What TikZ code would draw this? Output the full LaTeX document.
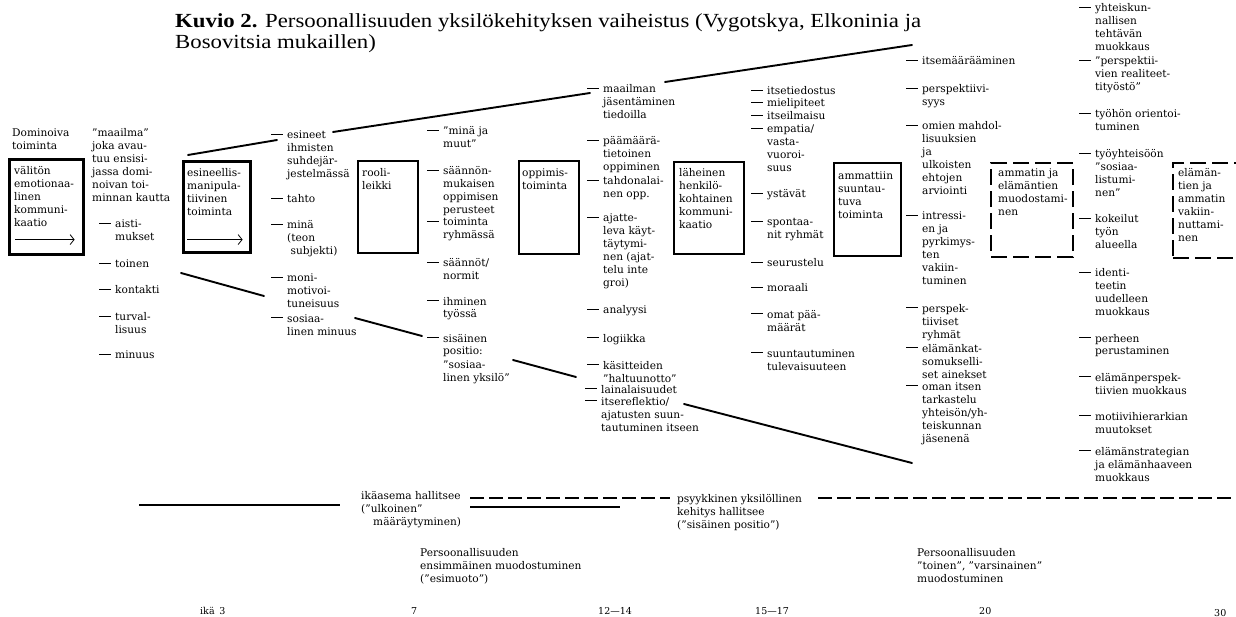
\documentclass[tikz,border=0pt]{standalone}
\usepackage{fontspec}
\setmainfont{DejaVu Serif}
\newfontfamily\titlefont[FakeStretch=1.14]{Liberation Serif}
\usetikzlibrary{arrows.meta}
\tikzset{
  txt/.style={font=\fontsize{10.6}{13}\selectfont, anchor=north west, inner sep=0pt, align=left},
  small/.style={font=\fontsize{9.5}{11}\selectfont, anchor=base west, inner sep=0pt},
  dsh/.style={line width=0.8pt},
  boxT/.style={draw, line width=2.6pt, anchor=north west, inner sep=0pt},
  boxM/.style={draw, line width=1.6pt, anchor=north west, inner sep=0pt},
  boxD/.style={draw, line width=2.2pt, dash pattern=on 16pt off 6pt, anchor=north west, inner sep=0pt},
  conn/.style={line width=1.9pt, line cap=round},
  arr/.style={line width=0.8pt, -{Straight Barb[length=4pt,width=10pt,line width=0.8pt]}},
  dline/.style={line width=1.7pt, dash pattern=on 14pt off 5pt},
}
\newcommand\mkitem[4]{\node[txt] (#1) at (#2,#3-4.3) {\strut#4};
  \draw[dsh] ([xshift=-16pt,yshift=-4.6pt]#1.north west) -- ++(12pt,0);}
\newcommand\mktext[4]{\node[txt] (#1) at (#2,#3-4.3) {\strut#4};}
\begin{document}
\begin{tikzpicture}[x=1pt,y=-1pt]
\useasboundingbox (0,0) rectangle (1236,617);
\begin{scope}
\clip (0,0) rectangle (1236,617);
% title
\node[anchor=north west, inner sep=0pt, align=left, font=\titlefont\fontsize{20}{21.5}\selectfont] (title) at (175,12)
 {\strut\textbf{Kuvio 2.} Persoonallisuuden yksilökehityksen vaiheistus (Vygotskya, Elkoninia ja\\Bosovitsia mukaillen)};

% column 1
\mktext{dom}{12}{132}{Dominoiva\\toiminta}
\node[boxT, minimum width=74pt, minimum height=95pt] (b1) at (8,158) {};
\mktext{b1t}{14}{170}{välitön\\emotionaa-\\linen\\kommuni-\\kaatio}
\draw[arr] ([xshift=7pt,yshift=16pt]b1.south west) -- ([xshift=-10pt,yshift=16pt]b1.south east);

% column 2
\mktext{maailma}{92}{132}{''maailma''\\joka avau-\\tuu ensisi-\\jassa domi-\\noivan toi-\\minnan kautta}
\mkitem{aisti}{115}{223}{aisti-\\mukset}
\mkitem{toinen}{115}{263}{toinen}
\mkitem{kontakti}{115}{289}{kontakti}
\mkitem{turval}{115}{316}{turval-\\lisuus}
\mkitem{minuus}{115}{354}{minuus}

% box 3
\node[boxT, minimum width=67pt, minimum height=91pt] (b3) at (182,160) {};
\mktext{b3t}{187}{172}{esineellis-\\manipula-\\tiivinen\\toiminta}
\draw[arr] ([xshift=5pt,yshift=14pt]b3.south west) -- ([xshift=-9pt,yshift=14pt]b3.south east);

% column 3
\mkitem{esineet}{287}{134}{esineet\\ihmisten\\suhdejär-\\jestelmässä}
\mkitem{tahto}{287}{198}{tahto}
\mkitem{mina}{287}{224}{minä\\(teon\\\ subjekti)}
\mkitem{moni}{287}{277}{moni-\\motivoi-\\tuneisuus}
\mkitem{sosiaa}{287}{317}{sosiaa-\\linen minuus}

% box 4
\node[boxM, minimum width=60pt, minimum height=92pt] (b4) at (357,160) {};
\mktext{b4t}{362}{172}{rooli-\\leikki}

% column 4
\mkitem{minaja}{443}{130}{''minä ja\\muut''}
\mkitem{saannon}{443}{170}{säännön-\\mukaisen\\oppimisen\\perusteet}
\mkitem{toiminta}{443}{221}{toiminta\\ryhmässä}
\mkitem{saannot}{443}{262}{säännöt/\\normit}
\mkitem{ihminen}{443}{300}{ihminen\\työssä}
\mkitem{sisainen}{443}{337}{sisäinen\\positio:\\''sosiaa-\\linen yksilö''}

% box 5
\node[boxM, minimum width=60pt, minimum height=93pt] (b5) at (518,160) {};
\mktext{b5t}{522}{172}{oppimis-\\toiminta}

% column 5
\mkitem{maailman}{603}{88}{maailman\\jäsentäminen\\tiedoilla}
\mkitem{paamaara}{603}{140}{päämäärä-\\tietoinen\\oppiminen}
\mkitem{tahdon}{603}{180}{tahdonalai-\\nen opp.}
\mkitem{ajatte}{603}{217}{ajatte-\\leva käyt-\\täytymi-\\nen (ajat-\\telu inte\\groi)}
\mkitem{analyysi}{603}{309}{analyysi}
\mkitem{logiikka}{603}{337}{logiikka}
\mkitem{kasitteiden}{603}{364}{käsitteiden\\''haltuunotto''}
\mkitem{laina}{601}{388}{lainalaisuudet}
\mkitem{itserefl}{601}{400}{itsereflektio/\\ajatusten suun-\\tautuminen itseen}

% box 6
\node[boxM, minimum width=70pt, minimum height=92pt] (b6) at (673,161) {};
\mktext{b6t}{679}{172}{läheinen\\henkilö-\\kohtainen\\kommuni-\\kaatio}

% column 6
\mkitem{itsetied}{767}{90}{itsetiedostus}
\mkitem{mielip}{767}{102}{mielipiteet}
\mkitem{itseilm}{767}{115}{itseilmaisu}
\mkitem{empatia}{767}{128}{empatia/\\vasta-\\vuoroi-\\suus}
\mkitem{ystavat}{767}{193}{ystävät}
\mkitem{spontaa}{767}{221}{spontaa-\\nit ryhmät}
\mkitem{seurust}{767}{262}{seurustelu}
\mkitem{moraali}{767}{287}{moraali}
\mkitem{omat}{767}{313}{omat pää-\\määrät}
\mkitem{suunt}{767}{352}{suuntautuminen\\tulevaisuuteen}

% box 7
\node[boxM, minimum width=67pt, minimum height=93pt] (b7) at (833,162) {};
\mktext{b7t}{838}{175}{ammattiin\\suuntau-\\tuva\\toiminta}

% column 7
\mkitem{itsemaar}{922}{60}{itsemäärääminen}
\mkitem{perspi}{922}{88}{perspektiivi-\\syys}
\mkitem{omien}{922}{125}{omien mahdol-\\lisuuksien\\ja\\ulkoisten\\ehtojen\\arviointi}
\mkitem{intressi}{922}{215}{intressi-\\en ja\\pyrkimys-\\ten\\vakiin-\\tuminen}
\mkitem{perspek}{922}{307}{perspek-\\tiiviset\\ryhmät}
\mkitem{elamank}{922}{347}{elämänkat-\\somukselli-\\set ainekset}
\mkitem{oman}{922}{385}{oman itsen\\tarkastelu\\yhteisön/yh-\\teiskunnan\\jäsenenä}

% box 8
\node[boxD, minimum width=82pt, minimum height=94pt] (b8) at (990,162) {};
\mktext{b8t}{998}{172}{ammatin ja\\elämäntien\\muodostami-\\nen}

% column 8
\mkitem{yhteisk}{1095}{7}{yhteiskun-\\nallisen\\tehtävän\\muokkaus}
\mkitem{perspii}{1095}{60}{''perspektii-\\vien realiteet-\\tityöstö''}
\mkitem{tyohon}{1095}{113}{työhön orientoi-\\tuminen}
\mkitem{tyoyht}{1095}{153}{työyhteisöön\\''sosiaa-\\listumi-\\nen''}
\mkitem{kokeilut}{1095}{218}{kokeilut\\työn\\alueella}
\mkitem{identi}{1095}{272}{identi-\\teetin\\uudelleen\\muokkaus}
\mkitem{perheen}{1095}{337}{perheen\\perustaminen}
\mkitem{elamanp}{1095}{376}{elämänperspek-\\tiivien muokkaus}
\mkitem{motiivi}{1095}{415}{motiivihierarkian\\muutokset}
\mkitem{elamans}{1095}{450}{elämänstrategian\\ja elämänhaaveen\\muokkaus}

% box 9
\node[boxD, minimum width=90pt, minimum height=95pt] (b9) at (1172,162) {};
\mktext{b9t}{1178}{172}{elämän-\\tien ja\\ammatin\\vakiin-\\nuttami-\\nen}

% connectors going up
\coordinate (u1a) at (188,155); \coordinate (u1b) at (277,140);
\coordinate (u2a) at (333,132); \coordinate (u2b) at (590,93);
\coordinate (u3a) at (665,82);  \coordinate (u3b) at (912,45);
\draw[conn] (u1a) -- (u1b);
\draw[conn] (u2a) -- (u2b);
\draw[conn] (u3a) -- (u3b);
% connectors going down
\coordinate (d1a) at (181,273); \coordinate (d1b) at (264,296);
\coordinate (d2a) at (355,318); \coordinate (d2b) at (422,336);
\coordinate (d3a) at (513,360); \coordinate (d3b) at (576,377);
\coordinate (d4a) at (684,404); \coordinate (d4b) at (912,463);
\draw[conn] (d1a) -- (d1b);
\draw[conn] (d2a) -- (d2b);
\draw[conn] (d3a) -- (d3b);
\draw[conn] (d4a) -- (d4b);

% bottom section
\coordinate (s1a) at (139,505); \coordinate (s1b) at (340,505);
\draw[line width=2.2pt] (s1a) -- (s1b);
\mktext{ikaasema}{361}{494}{ikäasema hallitsee\\(''ulkoinen''\\\hspace*{12pt}määräytyminen)}
\coordinate (s2a) at (470,498); \coordinate (s2b) at (670,498);
\draw[dline] (s2a) -- (s2b);
\coordinate (s3a) at (470,507); \coordinate (s3b) at (620,507);
\draw[line width=1.8pt] (s3a) -- (s3b);
\mktext{psyyk}{677}{497}{psyykkinen yksilöllinen\\kehitys hallitsee\\(''sisäinen positio'')}
\coordinate (s4a) at (818,498); \coordinate (s4b) at (1240,498);
\draw[dline] (s4a) -- (s4b);
\mktext{pers1}{420}{551}{Persoonallisuuden\\ensimmäinen muodostuminen\\(''esimuoto'')}
\mktext{pers2}{917}{551}{Persoonallisuuden\\''toinen'', ''varsinainen''\\muodostuminen}

% ages
\node[small] (a3) at (200,614) {ikä\enspace 3};
\node[small] (a7) at (411,614) {7};
\node[small] (a12) at (598,614) {12—14};
\node[small] (a15) at (755,614) {15—17};
\node[small] (a20) at (979,614) {20};
\node[small] (a30) at (1214,616) {30};
\end{scope}
\end{tikzpicture}
\end{document}
